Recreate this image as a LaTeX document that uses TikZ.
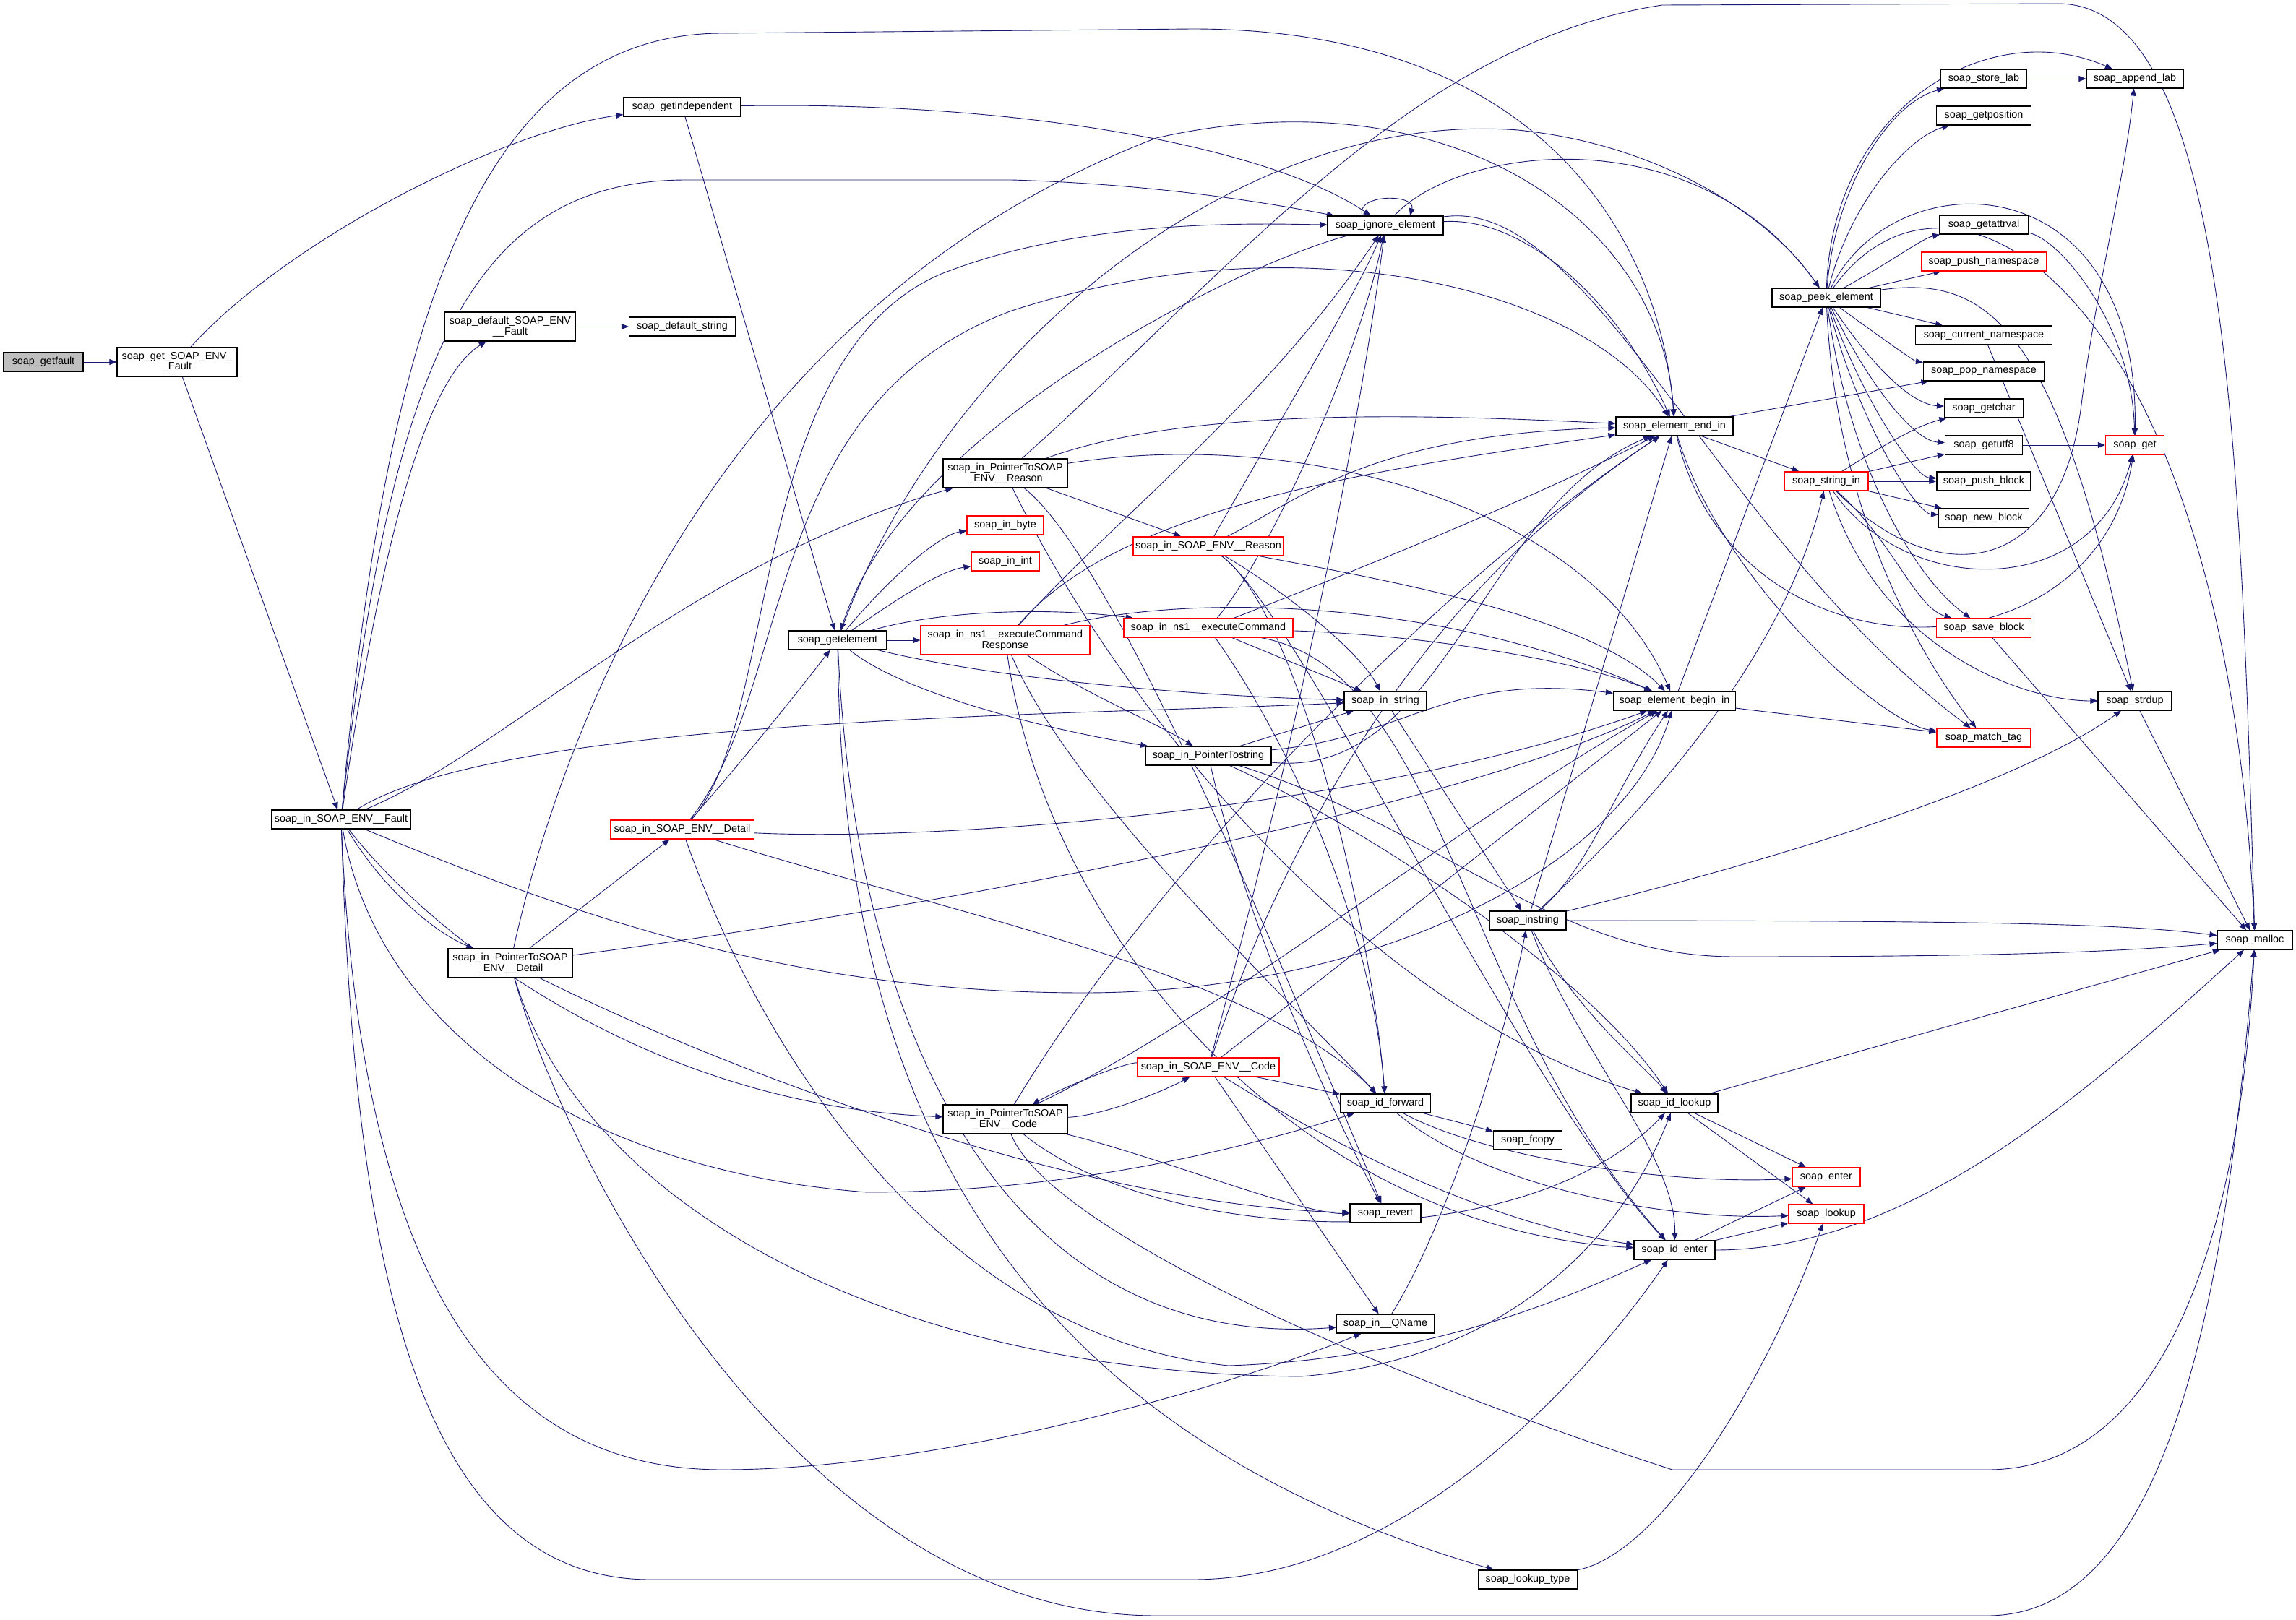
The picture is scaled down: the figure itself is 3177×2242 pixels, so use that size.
\documentclass[tikz,border=0pt]{standalone}
\usepackage{fontspec}
\setmainfont{Liberation Sans}
\usetikzlibrary{arrows.meta}
\definecolor{edgecol}{HTML}{191970}
\definecolor{rootgray}{HTML}{BFBFBF}
\newcommand\nfont{\fontsize{7.2}{7.4}\selectfont}
\pgfdeclarelayer{edgelayer}
\pgfsetlayers{edgelayer,main}
\begin{document}
\begin{tikzpicture}[x=0.5pt,y=-0.5pt,
 fn/.style={draw=black, fill=white, line width=0.6pt, font=\nfont, inner xsep=1pt, inner ysep=0pt, minimum height=13pt, align=center},
 fn2/.style={fn, minimum height=20pt},
 rd/.style={draw=red},
 gr/.style={fill=rootgray},
 e/.style={draw=edgecol, line width=0.45pt, -{Triangle[length=5pt,width=4pt]}}]
\useasboundingbox (0,0) rectangle (3177,2242);
% nodes
\node[fn,gr,minimum width=55pt] (getfault) at (60,501) {soap\_getfault};
\node[fn2,minimum width=83pt] (getSEF) at (245,501) {soap\_get\_SOAP\_ENV\_\\\_Fault};
\node[fn,minimum width=96.5pt] (inSEF) at (472,1134) {soap\_in\_SOAP\_ENV\_\_Fault};
\node[fn,minimum width=81pt] (getindep) at (944,148) {soap\_getindependent};
\node[fn2,minimum width=90.5pt] (defSEF) at (706,452) {soap\_default\_SOAP\_ENV\\\_\_Fault};
\node[fn,minimum width=73.5pt] (defstr) at (944,452) {soap\_default\_string};
\node[fn2,minimum width=86pt] (inPSEDetail) at (706,1333) {soap\_in\_PointerToSOAP\\\_ENV\_\_Detail};
\node[fn,rd,minimum width=99.5pt] (inSEDetail) at (944,1148) {soap\_in\_SOAP\_ENV\_\_Detail};
\node[fn,minimum width=67.5pt] (getelement) at (1159,886) {soap\_getelement};
\node[fn2,minimum width=86pt] (inPSEReason) at (1391,655) {soap\_in\_PointerToSOAP\\\_ENV\_\_Reason};
\node[fn,rd,minimum width=53pt] (inbyte) at (1391,727) {soap\_in\_byte};
\node[fn,rd,minimum width=47pt] (inint) at (1391,777) {soap\_in\_int};
\node[fn2,rd,minimum width=117pt] (inNsECR) at (1391,886) {soap\_in\_ns1\_\_executeCommand\\Response};
\node[fn2,minimum width=86pt] (inPSECode) at (1391,1549) {soap\_in\_PointerToSOAP\\\_ENV\_\_Code};
\node[fn,rd,minimum width=104pt] (inSEReason) at (1672,756) {soap\_in\_SOAP\_ENV\_\_Reason};
\node[fn,rd,minimum width=117pt] (inNsEC) at (1672,869) {soap\_in\_ns1\_\_executeCommand};
\node[fn,minimum width=87pt] (inPtrStr) at (1672,1046) {soap\_in\_PointerTostring};
\node[fn,rd,minimum width=98pt] (inSECode) at (1672,1477) {soap\_in\_SOAP\_ENV\_\_Code};
\node[fn,minimum width=80pt] (ignore) at (1917,312) {soap\_ignore\_element};
\node[fn,minimum width=57pt] (instring) at (1917,970) {soap\_in\_string};
\node[fn,minimum width=62.5pt] (idforward) at (1917,1527) {soap\_id\_forward};
\node[fn,minimum width=49pt] (revert) at (1917,1679) {soap\_revert};
\node[fn,minimum width=67.5pt] (inQName) at (1917,1832) {soap\_in\_\_QName};
\node[fn,minimum width=68.5pt] (lookuptype) at (2114,2186) {soap\_lookup\_type};
\node[fn,minimum width=53pt] (instr) at (2114,1274) {soap\_instring};
\node[fn,minimum width=47.5pt] (fcopy) at (2114,1578) {soap\_fcopy};
\node[fn,minimum width=81pt] (endin) at (2317,590) {soap\_element\_end\_in};
\node[fn,minimum width=84.5pt] (beginin) at (2317,970) {soap\_element\_begin\_in};
\node[fn,minimum width=60pt] (idlookup) at (2317,1527) {soap\_id\_lookup};
\node[fn,minimum width=56pt] (identer) at (2317,1730) {soap\_id\_enter};
\node[fn,minimum width=75pt] (peek) at (2527,412) {soap\_peek\_element};
\node[fn,rd,minimum width=58pt] (stringin) at (2527,666) {soap\_string\_in};
\node[fn,rd,minimum width=47pt] (enter) at (2527,1629) {soap\_enter};
\node[fn,rd,minimum width=52pt] (lookup) at (2527,1680) {soap\_lookup};
\node[fn,minimum width=59.5pt] (storelab) at (2745,109) {soap\_store\_lab};
\node[fn,minimum width=65.5pt] (getpos) at (2745,160) {soap\_getposition};
\node[fn,minimum width=61.5pt] (getattr) at (2745,311) {soap\_getattrval};
\node[fn,rd,minimum width=86.5pt] (pushns) at (2745,362) {soap\_push\_namespace};
\node[fn,minimum width=94.5pt] (curns) at (2745,464) {soap\_current\_namespace};
\node[fn,minimum width=83.5pt] (popns) at (2745,514) {soap\_pop\_namespace};
\node[fn,minimum width=54.5pt] (getchar) at (2745,565) {soap\_getchar};
\node[fn,minimum width=53.5pt] (getutf) at (2745,616) {soap\_getutf8};
\node[fn,minimum width=65pt] (pushblock) at (2745,666) {soap\_push\_block};
\node[fn,minimum width=62.5pt] (newblock) at (2745,717) {soap\_new\_block};
\node[fn,rd,minimum width=65.5pt] (saveblock) at (2745,869) {soap\_save\_block};
\node[fn,rd,minimum width=65pt] (matchtag) at (2745,1021) {soap\_match\_tag};
\node[fn,minimum width=67pt] (appendlab) at (2954,109) {soap\_append\_lab};
\node[fn,rd,minimum width=40.5pt] (get) at (2954,616) {soap\_get};
\node[fn,minimum width=51pt] (strdup) at (2954,970) {soap\_strdup};
\node[fn,minimum width=52pt] (malloc) at (3120,1301) {soap\_malloc};
\begin{pgfonlayer}{edgelayer}
\draw[e] (getfault) -- (getSEF);
\draw[e] (getSEF) .. controls (400,330) and (700,180) .. (getindep);
\draw[e] (getSEF) -- (inSEF);
\draw[e] (getindep) .. controls (1400,140) and (1750,200) .. (ignore);
\draw[e] (getindep) -- (getelement);
\draw[e] (defSEF) -- (defstr);
% soap_in_SOAP_ENV__Fault
\draw[e] (inSEF) .. controls (530,500) and (640,46) .. (1000,46) -- (1650,40) .. controls (2150,40) and (2300,350) .. (endin);
\draw[e] (inSEF) .. controls (540,500) and (650,249) .. (950,249) -- (1400,249) .. controls (1600,255) and (1750,280) .. (ignore);
\draw[e] (inSEF) .. controls (520,800) and (580,530) .. (defSEF);
\draw[e] (inSEF) .. controls (700,1040) and (950,780) .. (inPSEReason);
\draw[e] (inSEF) .. controls (700,990) and (1500,990) .. (instring);
\draw[e] (inSEF) .. controls (800,1270) and (1100,1374) .. (1500,1374) .. controls (1900,1374) and (2250,1200) .. (beginin);
\draw[e] (inSEF) .. controls (530,1230) and (600,1290) .. (inPSEDetail);
\draw[e] (inSEF) .. controls (600,1300) and (900,1530) .. (inPSECode);
\draw[e] (inSEF) .. controls (520,1420) and (800,1620) .. (1200,1650) .. controls (1500,1650) and (1750,1580) .. (idforward);
\draw[e] (inSEF) .. controls (490,1700) and (560,2186) .. (900,2186) -- (1650,2186) .. controls (1950,2186) and (2200,1900) .. (identer);
\draw[e] (inSEF) .. controls (500,1800) and (700,2034) .. (1000,2034) .. controls (1300,2034) and (1700,1920) .. (inQName);
% soap_in_PointerToSOAP_ENV__Detail
\draw[e] (inPSEDetail) .. controls (1200,1270) and (2000,1130) .. (beginin);
\draw[e] (inPSEDetail) .. controls (780,1600) and (1100,2236) .. (1600,2236) -- (2750,2236) .. controls (3000,2236) and (3080,1800) .. (malloc);
\draw[e] (inPSEDetail) .. controls (1000,1480) and (1500,1670) .. (revert);
\draw[e] (inPSEDetail) -- (inSEDetail);
\draw[e] (inPSEDetail) .. controls (800,1650) and (1200,1900) .. (1800,1905) .. controls (2100,1880) and (2250,1700) .. (idlookup);
\draw[e] (inPSEDetail) .. controls (780,1000) and (1000,420) .. (1600,191) .. controls (2000,100) and (2300,300) .. (endin);
% soap_in_SOAP_ENV__Detail
\draw[e] (inSEDetail) .. controls (1030,1050) and (1110,950) .. (getelement);
\draw[e] (inSEDetail) .. controls (1080,1000) and (1030,500) .. (1300,380) .. controls (1500,300) and (1750,310) .. (ignore);
\draw[e] (inSEDetail) .. controls (1100,950) and (1050,560) .. (1400,430) .. controls (1800,300) and (2200,400) .. (endin);
\draw[e] (inSEDetail) .. controls (1300,1165) and (1900,1120) .. (beginin);
\draw[e] (inSEDetail) .. controls (1300,1260) and (1750,1350) .. (idforward);
\draw[e] (inSEDetail) .. controls (1050,1450) and (1300,1850) .. (1700,1890) .. controls (2000,1880) and (2200,1780) .. (identer);
% soap_getelement
\draw[e] (getelement) .. controls (1300,500) and (1700,150) .. (2100,180) .. controls (2300,200) and (2450,300) .. (peek);
\draw[e] (getelement) .. controls (1165,1400) and (1300,1950) .. (lookuptype);
\draw[e] (getelement) .. controls (1230,800) and (1300,740) .. (inbyte);
\draw[e] (getelement) .. controls (1240,830) and (1300,790) .. (inint);
\draw[e] (getelement) -- (inNsECR);
\draw[e] (getelement) .. controls (1300,845) and (1450,840) .. (inNsEC);
\draw[e] (getelement) .. controls (1250,960) and (1450,1010) .. (inPtrStr);
\draw[e] (getelement) .. controls (1400,945) and (1700,965) .. (instring);
\draw[e] (getelement) .. controls (1185,1450) and (1400,1870) .. (inQName);
% soap_in_PointerToSOAP_ENV__Reason
\draw[e] (inPSEReason) .. controls (1800,590) and (2200,700) .. (beginin);
\draw[e] (inPSEReason) .. controls (1700,380) and (1950,60) .. (2300,7) -- (2850,5) .. controls (3080,10) and (3100,600) .. (malloc);
\draw[e] (inPSEReason) .. controls (1550,780) and (1800,1400) .. (revert);
\draw[e] (inPSEReason) -- (inSEReason);
\draw[e] (inPSEReason) .. controls (1560,1000) and (1900,1400) .. (idlookup);
\draw[e] (inPSEReason) .. controls (1650,560) and (2000,575) .. (endin);
% soap_in_ns1__executeCommandResponse
\draw[e] (inNsECR) .. controls (1650,820) and (2000,830) .. (beginin);
\draw[e] (inNsECR) .. controls (1450,1300) and (1800,1700) .. (identer);
\draw[e] (inNsECR) .. controls (1500,960) and (1600,1000) .. (inPtrStr);
\draw[e] (inNsECR) .. controls (1540,720) and (1750,560) .. (ignore);
\draw[e] (inNsECR) .. controls (1550,700) and (1900,650) .. (endin);
\draw[e] (inNsECR) .. controls (1480,1100) and (1800,1400) .. (idforward);
% soap_in_SOAP_ENV__Reason
\draw[e] (inSEReason) .. controls (1760,600) and (1870,420) .. (ignore);
\draw[e] (inSEReason) .. controls (1800,690) and (1900,600) .. (endin);
\draw[e] (inSEReason) .. controls (1780,820) and (1880,900) .. (instring);
\draw[e] (inSEReason) .. controls (1900,800) and (2200,850) .. (beginin);
\draw[e] (inSEReason) .. controls (1800,850) and (1900,1300) .. (idforward);
\draw[e] (inSEReason) .. controls (1800,850) and (2100,1500) .. (identer);
% soap_in_ns1__executeCommand
\draw[e] (inNsEC) .. controls (1750,780) and (1880,500) .. (ignore);
\draw[e] (inNsEC) .. controls (1850,800) and (2100,700) .. (endin);
\draw[e] (inNsEC) .. controls (2000,880) and (2200,920) .. (beginin);
\draw[e] (inNsEC) -- (instring);
\draw[e] (inNsEC) .. controls (2000,930) and (2020,1400) .. (identer);
\draw[e] (inNsEC) .. controls (1800,1050) and (1900,1300) .. (idforward);
% soap_in_PointerTostring
\draw[e] (inPtrStr) .. controls (1950,1020) and (2000,930) .. (beginin);
\draw[e] (inPtrStr) -- (instring);
\draw[e] (inPtrStr) .. controls (2000,1080) and (2050,700) .. (endin);
\draw[e] (inPtrStr) .. controls (1730,1300) and (1850,1550) .. (revert);
\draw[e] (inPtrStr) .. controls (1900,1150) and (2200,1350) .. (idlookup);
\draw[e] (inPtrStr) .. controls (2000,1150) and (2150,1324) .. (2400,1324) .. controls (2700,1324) and (2900,1320) .. (malloc);
% soap_in_SOAP_ENV__Code
\draw[e] (inSECode) .. controls (1560,1470) and (1480,1500) .. (inPSECode);
\draw[e] (inSECode) -- (inQName);
\draw[e] (inSECode) -- (idforward);
\draw[e] (inSECode) .. controls (1900,1620) and (2100,1700) .. (identer);
\draw[e] (inSECode) .. controls (1900,1300) and (2150,1100) .. (beginin);
\draw[e] (inSECode) .. controls (1800,1100) and (2000,800) .. (endin);
\draw[e] (inSECode) .. controls (1800,1000) and (1880,600) .. (ignore);
% soap_in_PointerToSOAP_ENV__Code
\draw[e] (inPSECode) .. controls (1520,1545) and (1600,1515) .. (inSECode);
\draw[e] (inPSECode) .. controls (1700,1400) and (2000,1150) .. (beginin);
\draw[e] (inPSECode) .. controls (1600,1200) and (2000,800) .. (endin);
\draw[e] (inPSECode) .. controls (1450,1700) and (1900,1900) .. (2314,2034) -- (2750,2034) .. controls (3000,2034) and (3100,1700) .. (malloc);
\draw[e] (inPSECode) .. controls (1600,1600) and (1800,1680) .. (revert);
\draw[e] (inPSECode) .. controls (1600,1720) and (2100,1750) .. (idlookup);
% soap_ignore_element
\draw[e] ([xshift=-16pt]ignore.north) .. controls (1875,268) and (1960,268) .. ([xshift=17pt]ignore.north);
\draw[e] (ignore) .. controls (2020,200) and (2350,160) .. (peek);
\draw[e] (ignore) .. controls (1700,370) and (1250,600) .. (getelement);
\draw[e] (ignore) .. controls (2100,300) and (2230,400) .. (endin);
\draw[e] (ignore) .. controls (2200,270) and (2380,750) .. (matchtag);
% string helpers
\draw[e] (instring) -- (instr);
\draw[e] (inQName) .. controls (2000,1700) and (2080,1450) .. (instr);
\draw[e] (instr) .. controls (2200,1200) and (2230,1100) .. (beginin);
\draw[e] (instr) -- (endin);
\draw[e] (instr) .. controls (2800,1274) and (2950,1280) .. (malloc);
\draw[e] (instr) .. controls (2500,1180) and (2800,1080) .. (strdup);
\draw[e] (instr) .. controls (2300,1100) and (2470,900) .. (stringin);
\draw[e] (instr) .. controls (2180,1400) and (2280,1480) .. (idlookup);
\draw[e] (instr) .. controls (2180,1450) and (2320,1600) .. (identer);
% id handling
\draw[e] (idforward) -- (fcopy);
\draw[e] (idforward) .. controls (2050,1600) and (2300,1640) .. (enter);
\draw[e] (idforward) .. controls (2050,1640) and (2300,1690) .. (lookup);
\draw[e] (idlookup) -- (malloc);
\draw[e] (idlookup) -- (enter);
\draw[e] (idlookup) -- (lookup);
\draw[e] (identer) -- (enter);
\draw[e] (identer) -- (lookup);
\draw[e] (identer) .. controls (2650,1730) and (2900,1500) .. (malloc);
\draw[e] (lookuptype) .. controls (2300,2150) and (2450,1900) .. (lookup);
% element begin/end
\draw[e] (beginin) -- (peek);
\draw[e] (beginin) -- (matchtag);
\draw[e] (endin) -- (popns);
\draw[e] (endin) -- (stringin);
\draw[e] (endin) .. controls (2380,800) and (2600,1000) .. (matchtag);
\draw[e] (endin) .. controls (2400,950) and (2900,950) .. (get);
% leaves
\draw[e] (storelab) -- (appendlab);
\draw[e] (getattr) .. controls (2850,330) and (2950,450) .. (get);
\draw[e] (getutf) -- (get);
\draw[e] (curns) -- (strdup);
\draw[e] (saveblock) -- (malloc);
\draw[e] (strdup) -- (malloc);
% soap_peek_element
\draw[e] (peek) .. controls (2540,250) and (2620,140) .. (storelab);
\draw[e] (peek) .. controls (2560,280) and (2640,190) .. (getpos);
\draw[e] (peek) .. controls (2620,360) and (2660,330) .. (getattr);
\draw[e] (peek) -- (pushns);
\draw[e] (peek) -- (curns);
\draw[e] (peek) .. controls (2620,480) and (2650,500) .. (popns);
\draw[e] (peek) .. controls (2600,520) and (2650,560) .. (getchar);
\draw[e] (peek) .. controls (2590,540) and (2650,610) .. (getutf);
\draw[e] (peek) .. controls (2580,560) and (2650,660) .. (pushblock);
\draw[e] (peek) .. controls (2570,580) and (2650,710) .. (newblock);
\draw[e] (peek) .. controls (2560,650) and (2650,800) .. (saveblock);
\draw[e] (peek) .. controls (2540,700) and (2650,900) .. (matchtag);
\draw[e] (peek) .. controls (2535,150) and (2750,20) .. (appendlab);
\draw[e] (peek) .. controls (2620,220) and (2960,220) .. (get);
\draw[e] (peek) .. controls (2750,380) and (2850,450) .. (strdup);
\draw[e] (peek) .. controls (2700,170) and (3080,400) .. (malloc);
% soap_string_in
\draw[e] (stringin) .. controls (2600,620) and (2650,590) .. (getchar);
\draw[e] (stringin) -- (getutf);
\draw[e] (stringin) -- (pushblock);
\draw[e] (stringin) -- (newblock);
\draw[e] (stringin) .. controls (2620,750) and (2650,840) .. (saveblock);
\draw[e] (stringin) .. controls (2640,830) and (2900,830) .. (get);
\draw[e] (stringin) .. controls (2680,820) and (2850,800) .. (2880,560) .. controls (2900,400) and (2940,250) .. (appendlab);
\draw[e] (stringin) .. controls (2600,900) and (2800,970) .. (strdup);
\end{pgfonlayer}
\end{tikzpicture}
\end{document}
